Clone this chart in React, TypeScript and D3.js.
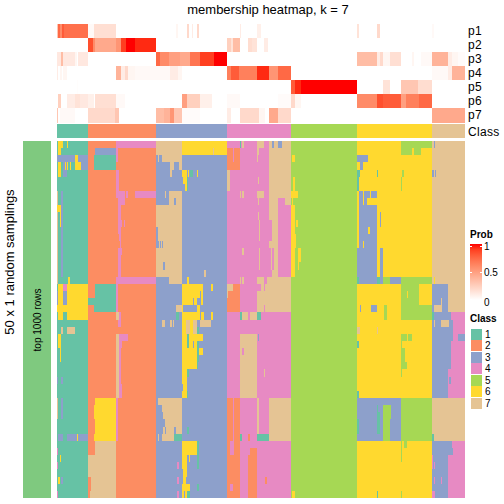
import React from "react";
import * as d3 from "d3";

const CLASS_COLORS = ["#66C2A5", "#FC8D62", "#8DA0CB", "#E78AC3", "#A6D854", "#FFD92F", "#E5C494"];
const CLASS_IDS = [1, 2, 3, 4, 5, 6, 7];
const CLASS_BREAKS = [0, 31, 99, 170, 234, 300, 375, 408];
const P_LABELS = ["p1", "p2", "p3", "p4", "p5", "p6", "p7"];
const N_SAMPLES = 408;
const N_ROWS = 50;

// membership probability runs: [start, end, prob]
const P1 = [[0,1,.3],[1,3,.75],[3,5,.6],[5,7,.8],[7,31,.72],[31,37,.03],[37,59,.17],[119,121,.05],[130,132,.2],[135,136,.1],[140,142,.2],[183,184,.1],[200,204,.08],[300,302,.15],[320,323,.2],[375,377,.03]];
const P2 = [[31,36,.85],[36,38,.6],[38,59,.45],[59,64,.55],[64,69,.9],[69,78,1],[78,99,.95],[170,174,.25],[174,176,.15],[176,183,.35],[191,195,.18],[195,200,.15],[207,211,.1]];
const P3 = [[0,4,.12],[4,6,.35],[6,18,.12],[18,20,.05],[21,31,.12],[99,103,.75],[103,112,.6],[112,123,.5],[123,133,.45],[133,143,.7],[143,157,.9],[157,170,1],[300,320,.35],[320,323,.1],[323,326,.2],[326,333,.05],[333,344,.17],[355,357,.05],[364,375,.03],[375,391,.4],[391,395,.1],[395,401,.05],[401,408,.02]];
const P4 = [[0,1,.1],[3,5,.05],[6,10,.05],[59,64,.4],[64,68,.1],[68,71,.2],[71,78,.05],[78,99,.03],[99,113,.03],[113,121,.1],[121,125,.05],[170,174,.65],[174,182,.8],[182,200,.65],[200,212,.95],[212,221,.55],[221,234,.75],[375,391,.03],[391,395,.1],[395,408,.4]];
const P5 = [[20,21,.01],[234,238,.8],[238,244,.95],[244,300,1],[326,333,.15],[344,361,.3],[361,375,.18]];
const P6 = [[1,4,.25],[10,18,.1],[18,23,.15],[23,31,.12],[31,37,.08],[38,59,.17],[59,68,.03],[125,130,.5],[130,143,.25],[143,155,.08],[170,183,.03],[221,234,.02],[234,238,.2],[238,244,.05],[300,320,.6],[320,326,.85],[326,344,.8],[344,349,.5],[349,362,.65],[362,375,.75]];
const P7 = [[0,1,.3],[3,18,.03],[31,38,.2],[38,58,.2],[58,62,.3],[99,107,.35],[107,113,.4],[113,117,.55],[117,125,.3],[125,143,.02],[170,174,.1],[183,195,.2],[195,202,.2],[202,208,.05],[212,221,.45],[221,234,.2],[375,408,.45]];
const P_ROWS = [P1, P2, P3, P4, P5, P6, P7];

// class patches, painted in order: [rowStart, rowEnd, sampleStart, sampleEnd, class]
const GROUP1 = [[0,50,0,31,1],[0,1,1,6,6],[0,1,10,11,6],[1,2,1,4,6],[2,3,0,31,3],[2,3,18,21,6],[3,4,1,4,6],[3,4,6,10,3],[3,4,8,9,6],[3,4,10,11,6],[3,4,13,14,6],[3,4,18,24,6],[3,4,24,31,3],[4,5,1,4,6],[4,5,6,10,3],[7,19,0,1,7],[7,19,4,6,3],[9,10,0,4,6],[10,12,3,4,6],[19,20,0,1,7],[19,20,11,13,6],[20,25,1,6,6],[20,25,10,31,6],[20,21,6,10,4],[21,23,6,10,3],[21,23,0,1,3],[23,24,0,10,6],[26,27,4,6,7],[26,27,10,18,7],[27,29,1,4,6],[29,31,3,4,6],[33,34,4,6,3],[33,34,0,1,3],[36,39,0,1,7],[36,39,4,6,3],[41,42,1,6,3],[41,42,10,20,3],[41,42,20,21,6],[41,42,21,31,3],[43,44,0,1,4],[44,45,3,4,6],[45,46,0,1,4],[47,48,1,3,6],[47,48,4,6,3],[49,50,0,1,4]];
const GROUP2 = [[0,50,31,99,2],[0,1,59,99,4],[1,2,38,59,3],[1,2,59,61,4],[2,4,37,59,1],[2,3,59,61,4],[4,7,59,62,4],[7,8,59,68,4],[7,8,69,71,4],[7,8,78,99,4],[8,9,61,68,4],[9,19,61,64,4],[11,12,64,65,4],[11,12,67,68,4],[13,14,61,62,2],[14,15,61,63,2],[15,16,64,65,4],[19,20,59,99,4],[20,22,38,59,1],[22,23,31,59,1],[23,24,37,59,1],[20,24,59,61,4],[24,25,59,62,7],[24,25,62,64,4],[25,26,61,64,4],[27,36,59,62,7],[27,28,62,71,4],[28,36,62,64,4],[28,29,64,65,4],[34,36,64,65,4],[36,42,38,59,6],[37,39,37,38,6],[41,42,37,38,6],[36,42,59,61,4],[42,44,38,59,7],[44,50,31,59,7],[47,49,31,34,2],[49,50,31,33,2]];
const GROUP3 = [[0,50,99,170,3],[0,2,99,125,7],[0,2,125,170,6],[1,2,156,157,7],[2,3,101,102,7],[2,3,105,125,7],[3,4,113,117,7],[3,4,122,125,7],[4,5,113,115,7],[4,5,125,130,6],[4,5,133,136,1],[4,5,140,141,6],[4,5,131,132,6],[5,6,126,130,6],[5,6,130,131,1],[6,7,128,130,6],[6,7,130,131,1],[7,8,108,109,7],[7,8,112,125,7],[8,9,112,117,7],[8,9,119,125,7],[9,12,99,125,7],[12,15,101,125,7],[14,15,101,102,3],[14,15,103,104,3],[14,15,105,106,3],[15,19,99,125,7],[17,18,106,108,3],[18,19,147,149,7],[19,20,112,125,7],[19,20,130,132,6],[20,21,125,146,6],[20,21,154,156,6],[21,22,125,143,6],[21,22,144,146,6],[22,23,125,136,6],[22,23,137,140,6],[22,23,144,146,6],[23,24,119,125,7],[23,24,125,126,6],[23,24,140,143,6],[24,25,119,122,1],[24,25,125,143,6],[24,25,144,147,6],[24,25,154,156,6],[25,26,105,108,7],[25,26,113,115,7],[25,26,116,117,7],[25,26,125,129,6],[25,26,129,133,7],[25,26,133,136,6],[25,26,136,140,7],[25,26,143,154,7],[26,27,125,129,6],[26,27,129,133,7],[26,27,133,136,6],[26,27,136,140,7],[26,27,140,142,1],[27,28,125,130,6],[27,28,130,132,1],[27,28,132,146,6],[28,29,125,130,6],[28,29,130,132,1],[28,29,132,136,6],[28,29,137,140,6],[28,29,140,142,1],[29,30,125,140,6],[29,30,140,142,1],[29,30,142,146,6],[30,31,125,140,6],[30,31,140,142,1],[31,32,125,140,6],[31,32,140,141,1],[32,33,125,130,6],[32,33,130,132,1],[33,34,125,130,6],[34,35,126,130,6],[35,36,125,130,6],[35,36,130,131,1],[36,37,101,125,7],[37,38,105,125,7],[38,39,106,125,7],[39,40,108,125,7],[40,41,106,108,7],[40,41,109,117,7],[40,41,119,125,7],[40,41,130,132,1],[41,42,101,102,7],[41,42,105,117,7],[41,42,117,125,1],[42,44,125,140,6],[42,44,140,142,1],[44,45,125,130,6],[44,45,132,133,6],[44,45,140,142,1],[45,46,120,122,4],[45,46,125,130,6],[45,46,140,142,1],[46,47,126,130,6],[47,48,120,122,4],[47,48,126,129,6],[48,49,125,133,6],[48,49,140,142,1],[49,50,120,122,4],[49,50,125,127,6],[49,50,128,130,6],[49,50,130,133,1]];
const GROUP4 = [[0,50,170,234,4],[0,1,183,184,1],[0,1,185,187,7],[0,1,200,207,7],[0,1,212,234,7],[0,1,215,217,3],[0,1,221,225,3],[1,2,170,176,2],[1,2,177,183,2],[1,2,200,202,7],[1,2,212,234,7],[2,3,170,176,2],[2,3,177,183,2],[2,3,200,201,7],[2,3,212,234,7],[3,4,170,183,2],[3,4,212,234,7],[4,7,170,173,7],[4,7,212,234,7],[5,6,201,202,7],[7,8,183,184,7],[7,8,185,187,7],[7,8,200,207,7],[7,8,212,234,7],[8,9,201,202,7],[8,9,212,221,7],[8,9,228,234,7],[9,11,212,221,7],[10,11,201,202,7],[11,14,215,221,7],[11,14,202,203,7],[14,15,212,221,7],[15,18,202,203,7],[15,18,214,215,7],[15,18,217,221,7],[15,16,185,187,7],[18,19,215,221,7],[19,20,183,184,7],[19,20,185,187,7],[19,20,200,207,7],[19,20,210,234,7],[20,21,170,176,7],[20,21,176,183,2],[20,21,204,234,7],[20,21,207,208,4],[21,24,170,183,2],[21,24,200,234,7],[21,22,170,171,7],[23,24,207,208,4],[24,25,183,185,1],[24,25,185,191,7],[24,25,193,200,7],[24,25,200,204,1],[27,36,183,200,7],[27,28,201,202,3],[32,33,207,208,7],[29,30,185,187,4],[36,41,170,176,2],[36,41,177,183,2],[36,41,200,202,7],[36,41,212,234,7],[41,42,170,176,2],[41,42,177,183,2],[41,42,183,185,1],[41,42,191,193,2],[41,42,200,212,1],[41,42,212,234,7],[42,43,170,173,2],[42,43,177,183,2],[43,44,170,173,2],[43,44,177,183,2],[43,44,193,200,2],[44,50,170,183,2],[44,50,191,200,2],[47,48,208,210,2],[48,49,173,176,4]];
const GROUP5 = [[0,50,234,300,5],[2,3,235,238,6],[5,7,236,238,6],[7,8,234,241,6],[8,9,235,236,6],[9,19,234,238,6],[11,12,239,241,6],[13,15,238,239,6],[15,17,241,244,6],[17,18,241,242,6],[49,50,235,238,6]];
const GROUP6 = [[0,50,300,375,6],[0,1,344,375,5],[1,2,344,355,5],[1,2,357,364,5],[2,3,300,311,3],[3,4,303,306,3],[4,5,300,303,1],[4,5,320,321,1],[4,5,345,347,5],[5,7,300,302,1],[5,7,344,345,5],[7,8,302,306,3],[7,8,307,313,3],[7,8,314,320,3],[8,9,302,306,3],[8,9,307,310,3],[9,15,302,320,3],[10,12,323,324,3],[12,13,311,313,6],[14,15,306,307,6],[15,19,300,320,3],[15,19,323,326,3],[19,20,300,302,1],[19,20,302,320,3],[19,20,320,323,1],[19,20,323,326,3],[19,20,326,333,5],[19,20,333,344,3],[19,20,344,375,5],[20,23,344,362,5],[21,22,350,351,6],[23,25,344,375,5],[23,24,303,304,3],[23,24,314,320,3],[23,25,327,330,5],[26,27,300,303,7],[26,27,320,321,7],[27,28,344,350,5],[27,28,351,355,5],[28,29,300,302,1],[28,29,344,345,5],[29,31,344,348,5],[31,32,344,350,5],[32,33,344,345,5],[35,36,300,302,1],[36,42,300,344,3],[36,42,344,375,5],[37,38,320,321,1],[38,41,320,323,1],[37,39,326,334,5],[39,42,326,333,5],[39,41,300,302,1],[42,45,344,345,5],[42,43,347,350,5],[49,50,320,321,1],[49,50,344,345,5]];
const GROUP7 = [[0,50,375,408,7],[0,1,377,378,3],[4,5,375,377,3],[4,5,378,379,3],[19,20,377,378,6],[20,22,375,391,3],[22,23,375,384,3],[22,23,385,391,3],[23,24,375,377,3],[23,24,385,391,3],[24,25,375,377,1],[24,25,377,394,3],[24,25,394,408,4],[25,26,375,377,3],[25,26,377,378,7],[25,26,378,384,3],[25,26,392,396,3],[25,26,396,408,4],[26,27,375,396,3],[26,27,396,408,4],[27,28,375,396,3],[27,28,396,401,4],[27,28,401,408,3],[28,32,375,394,3],[28,32,394,408,4],[32,36,375,391,3],[32,36,391,408,4],[33,34,392,394,3],[41,42,375,377,1],[42,44,375,395,3],[42,44,395,408,4],[43,44,395,396,3],[44,50,375,391,3],[44,50,391,408,4],[44,46,375,376,4],[45,46,377,378,4],[47,48,377,378,4],[47,48,384,385,4],[49,50,375,378,4]];
const GROUPS = [GROUP1, GROUP2, GROUP3, GROUP4, GROUP5, GROUP6, GROUP7];

const matrix: number[][] = d3.range(N_ROWS).map(() => new Array(N_SAMPLES).fill(1));
GROUPS.forEach((g) =>
  g.forEach(([r0, r1, c0, c1, k]) => {
    for (let r = r0; r < r1; r++) for (let c = c0; c < c1; c++) matrix[r][c] = k;
  })
);

const runsOf = (row: number[]) => {
  const runs: { a: number; b: number; k: number }[] = [];
  row.forEach((k, c) => {
    const last = runs[runs.length - 1];
    if (last && last.k === k) last.b = c + 1;
    else runs.push({ a: c, b: c + 1, k });
  });
  return runs;
};

const FONT = "'Liberation Sans', Arial, sans-serif";

export default function App() {
  const x = d3.scaleLinear().domain([0, N_SAMPLES]).range([57, 465]);
  const y = d3.scaleLinear().domain([0, N_ROWS]).range([141, 498]);
  const pY = d3.scaleBand<string>().domain(P_LABELS).range([24, 122.5]);
  const prob = d3.scaleLinear<string>().domain([0, 1]).range(["#ffffff", "#ff0000"]).interpolate(d3.interpolateLab);
  const color = d3.scaleOrdinal<number, string>().domain(CLASS_IDS).range(CLASS_COLORS);
  const legendY = d3.scaleLinear().domain([0, 1]).range([300, 244]);
  const legendBand = d3.scaleBand<number>().domain(CLASS_IDS).range([329, 409]);
  const stops = d3.range(0, 1.01, 0.1);

  return (
    <svg width={504} height={504} style={{ position: "absolute", left: 0, top: 0 }} fontFamily={FONT}>
      <defs>
        <linearGradient id="prob" x1="0" y1="1" x2="0" y2="0">
          {stops.map((s) => (
            <stop key={s} offset={s} stopColor={prob(s)} />
          ))}
        </linearGradient>
      </defs>
      <text x={268} y={14} fontSize={13} textAnchor="middle" fill="#000">
        membership heatmap, k = 7
      </text>

      <g shapeRendering="crispEdges">
        {P_ROWS.map((runs, i) =>
          runs.map(([a, b, v], j) => (
            <rect key={`${i}-${j}`} x={x(a)} y={pY(P_LABELS[i])} width={x(b) - x(a)} height={pY.bandwidth()} fill={prob(v)} />
          ))
        )}
        {CLASS_IDS.map((k, i) => (
          <rect key={k} x={x(CLASS_BREAKS[i])} y={124} width={x(CLASS_BREAKS[i + 1]) - x(CLASS_BREAKS[i])} height={14} fill={color(k)} />
        ))}
        {matrix.map((row, r) =>
          runsOf(row).map((run) => (
            <rect
              key={`${r}-${run.a}`}
              x={x(run.a)}
              y={y(r)}
              width={x(run.b) - x(run.a)}
              height={y(r + 1) - y(r)}
              fill={color(run.k)}
            />
          ))
        )}
        <rect x={23} y={y(0)} width={28} height={y(N_ROWS) - y(0)} fill="#7FC97F" />
      </g>

      {P_LABELS.map((p) => (
        <text key={p} x={468} y={(pY(p) as number) + pY.bandwidth() / 2 + 4} fontSize={12} letterSpacing={0.3} fill="#000">
          {p}
        </text>
      ))}
      <text x={468} y={136} fontSize={12} letterSpacing={0.3} fill="#000">
        Class
      </text>

      <text transform="translate(14,262) rotate(-90)" fontSize={13} textAnchor="middle" fill="#000">
        50 x 1 random samplings
      </text>
      <text transform="translate(41,320) rotate(-90)" fontSize={10} textAnchor="middle" fill="#000">
        top 1000 rows
      </text>

      <text x={470} y={238} fontSize={10} fontWeight="bold" fill="#000">
        Prob
      </text>
      <rect x={470} y={244} width={12} height={56} fill="url(#prob)" shapeRendering="crispEdges" />
      {[1, 0.5, 0].map((t) => (
        <g key={t}>
          <line x1={470} x2={472.4} y1={legendY(t) + (t === 1 ? 2 : t === 0 ? -1 : 0)} y2={legendY(t) + (t === 1 ? 2 : t === 0 ? -1 : 0)} stroke="#fff" shapeRendering="crispEdges" />
          <line x1={479.6} x2={482} y1={legendY(t) + (t === 1 ? 2 : t === 0 ? -1 : 0)} y2={legendY(t) + (t === 1 ? 2 : t === 0 ? -1 : 0)} stroke="#fff" shapeRendering="crispEdges" />
          <text x={484} y={legendY(t) + (t === 1 ? 6 : t === 0 ? 6 : 4)} fontSize={10} fill="#000">
            {t}
          </text>
        </g>
      ))}

      <text x={470} y={322} fontSize={10} fontWeight="bold" fill="#000">
        Class
      </text>
      {CLASS_IDS.map((k) => (
        <g key={k}>
          <rect x={471} y={legendBand(k)} width={11} height={legendBand.bandwidth() - 0.5} fill={color(k)} shapeRendering="crispEdges" />
          <text x={485} y={(legendBand(k) as number) + 9} fontSize={10} fill="#000">
            {k}
          </text>
        </g>
      ))}
    </svg>
  );
}
